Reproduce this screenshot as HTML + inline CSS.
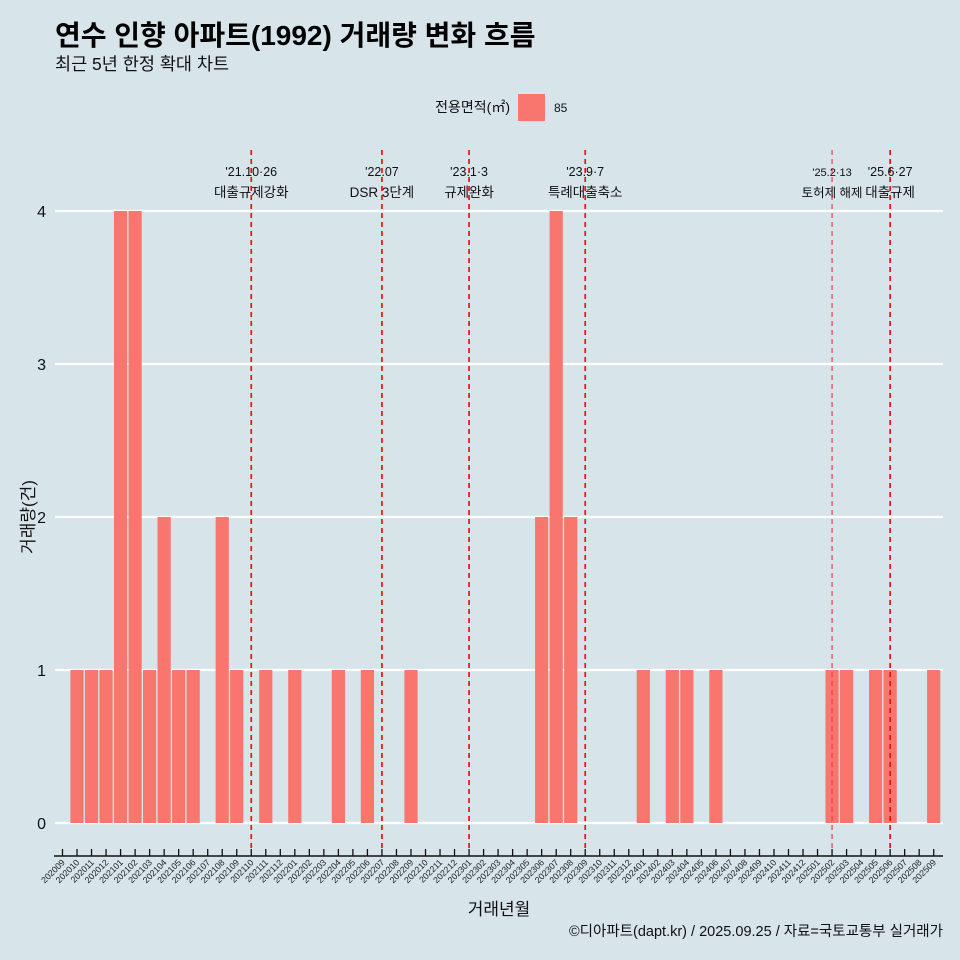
<!DOCTYPE html>
<html><head><meta charset="utf-8"><style>
body{margin:0;background:#d7e4ea;}
svg{display:block;font-family:"Liberation Sans","Noto Sans CJK KR",sans-serif;}
</style></head><body>
<svg id="c" width="960" height="960" viewBox="0 0 960 960">
<rect width="960" height="960" fill="#d7e4ea"/>
<text x="55" y="45" font-size="28" font-weight="bold" fill="#000">연수 인향 아파트(1992) 거래량 변화 흐름</text>
<text x="55" y="70" font-size="17.5" fill="#111">최근 5년 한정 확대 차트</text>
<g>
<text x="510" y="112" font-size="14" text-anchor="end" fill="#111">전용면적(㎡)</text>
<rect x="518" y="94" width="27" height="27" fill="#F8766D"/>
<text x="554" y="112" font-size="12" fill="#111">85</text>
</g>
<g id="grid"></g><g id="bars"></g><g id="vlines"></g><g id="axes"></g>
<text x="499" y="915" font-size="17" text-anchor="middle" fill="#111">거래년월</text>
<text transform="translate(34,517) rotate(-90)" font-size="17" text-anchor="middle" fill="#111">거래량(건)</text>
<text x="943" y="936" font-size="14.5" text-anchor="end" fill="#111">©디아파트(dapt.kr) / 2025.09.25 / 자료=국토교통부 실거래가</text>
</svg>
<script>
const categories=["202009","202010","202011","202012","202101","202102","202103","202104","202105","202106","202107","202108","202109","202110","202111","202112","202201","202202","202203","202204","202205","202206","202207","202208","202209","202210","202211","202212","202301","202302","202303","202304","202305","202306","202307","202308","202309","202310","202311","202312","202401","202402","202403","202404","202405","202406","202407","202408","202409","202410","202411","202412","202501","202502","202503","202504","202505","202506","202507","202508","202509"];
const values=[0,1,1,1,4,4,1,2,1,1,0,2,1,0,1,0,1,0,0,1,0,1,0,0,1,0,0,0,0,0,0,0,0,2,4,2,0,0,0,0,1,0,1,1,0,1,0,0,0,0,0,0,0,1,1,0,1,1,0,0,1];
const yTicks=[0,1,2,3,4];
const eventMonths=["202110","202207","202301","202309","202502","202506"];
const eventLine1=["'21.10·26","'22.07","'23.1·3","'23.9·7","'25.2·13","'25.6·27"];
const eventLine2=["대출규제강화","DSR 3단계","규제완화","특례대출축소","토허제 해제","대출규제"];
const NS="http://www.w3.org/2000/svg";
function x(c){return 62.5+categories.indexOf(c)*14.52;}
function y(v){return 823-v*153;}
function mk(t,a,p){const e=document.createElementNS(NS,t);for(const k in a)e.setAttribute(k,a[k]);p.appendChild(e);return e;}
const grid=document.getElementById('grid'),bars=document.getElementById('bars'),vl=document.getElementById('vlines'),ax=document.getElementById('axes');
yTicks.forEach(t=>{
 const l=mk('line',{x1:55,x2:943,y1:y(t),y2:y(t),stroke:'#fff','stroke-width':2.2},grid);
 
 
 const tx=mk('text',{x:46,y:y(t)+6,'font-size':16,'text-anchor':'end',fill:'#111'},grid);
 tx.textContent=t;
 
 
});
categories.forEach((c,i)=>{
 if(values[i]>0){
  const r=mk('rect',{x:x(c)-6.6,y:y(values[i]),width:13.2,height:values[i]*153,fill:'#F8766D'},bars);
  
  
 }
 const tk=mk('line',{x1:x(c),x2:x(c),y1:849,y2:856,stroke:'#111','stroke-width':1.3},ax);
 
 
 const xl=mk('text',{transform:`translate(${x(c)+3},863) rotate(-45)`,'font-size':8.8,'text-anchor':'end',fill:'#222'},ax);
 xl.textContent=c;
 
 
});
const axl=mk('line',{x1:54,x2:943,y1:856,y2:856,stroke:'#111','stroke-width':1.5},ax);


eventMonths.forEach((m,i)=>{
 const thin=m==="202502";
 const l=mk('line',{x1:x(m),x2:x(m),y1:150,y2:852,stroke:thin?'#f0404a':'#ee1111','stroke-width':thin?1.2:1.7,'stroke-dasharray':'5,4'},vl);
 
 
 const t1=mk('text',{x:x(m),y:176,'font-size':thin?11:12.5,'text-anchor':'middle',fill:'#111'},vl);
 t1.textContent=eventLine1[i];
 
 
 const t2=mk('text',{x:x(m),y:197,'font-size':thin?12.5:13.5,'text-anchor':'middle',fill:'#111'},vl);
 t2.textContent=eventLine2[i];
 
 
});
</script>
</body></html>
